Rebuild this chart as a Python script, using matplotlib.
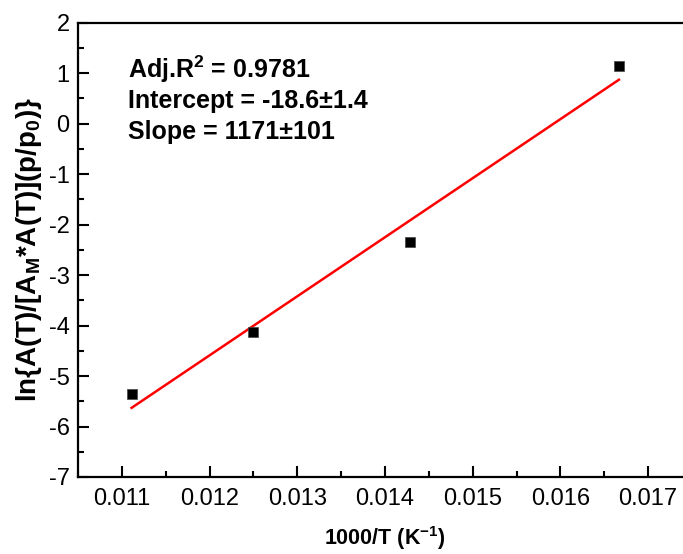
import matplotlib
matplotlib.use("Agg")
import matplotlib.pyplot as plt
import numpy as np
from matplotlib.ticker import MultipleLocator

plt.rcParams['font.family'] = ['Liberation Sans', 'DejaVu Sans']
plt.rcParams['mathtext.fontset'] = 'custom'
plt.rcParams['mathtext.rm'] = 'Liberation Sans'
plt.rcParams['mathtext.bf'] = 'Liberation Sans:bold'
plt.rcParams['axes.unicode_minus'] = False

# data
inv_T = [1 / 90.0, 1 / 80.0, 1 / 70.0, 1 / 60.0]
ln_ratio = [-5.35, -4.13, -2.35, 1.15]

fit_labels = ["Adj.R$^{\\mathregular{2}}$ = 0.9781",
              "Intercept = -18.6\u00b11.4",
              "Slope = 1171\u00b1101"]

# linear fit
slope, intercept = np.polyfit(inv_T, ln_ratio, 1)
xfit = np.linspace(min(inv_T), max(inv_T), 50)
yfit = slope * xfit + intercept

fig = plt.figure(figsize=(6.83, 5.54), dpi=100)
ax = fig.add_axes([0.1142, 0.139, 0.899, 0.820])

ax.plot(xfit, yfit, color='red', lw=1.8, zorder=2)
ax.plot(inv_T, ln_ratio, 's', color='black', markersize=6.8,
        markeredgecolor='#444444', markeredgewidth=0.5, zorder=3)

ax.set_xlim(0.0105, 0.0175)
ax.set_ylim(-7, 2)
ax.xaxis.set_minor_locator(MultipleLocator(0.0005))
ax.yaxis.set_major_locator(MultipleLocator(1))
ax.yaxis.set_minor_locator(MultipleLocator(0.5))
ax.set_xticks([0.011, 0.012, 0.013, 0.014, 0.015, 0.016, 0.017])
ax.set_xticklabels(['0.011', '0.012', '0.013', '0.014', '0.015', '0.016', '0.017'])

ax.tick_params(which='major', direction='in', length=8, width=1.5,
               labelsize=17, pad=8, top=False, right=False)
ax.tick_params(which='minor', direction='in', length=4.5, width=1.5,
               top=False, right=False)
ax.tick_params(axis='y', which='major', pad=6)

for s in ['left', 'bottom', 'top']:
    ax.spines[s].set_linewidth(1.6)
ax.spines['right'].set_visible(False)

ax.set_xlabel('1000/T (K$^{\\mathregular{-1}}$)', fontsize=15.5, fontweight='bold', labelpad=10)
ax.set_ylabel('ln{A(T)/[A$_{\\mathregular{M}}$*A(T)](p/p$_{\\mathregular{0}}$)}',
              fontsize=20, fontweight='bold', labelpad=3)

ypos = [0.879, 0.812, 0.744]
for t, yy in zip(fit_labels, ypos):
    ax.text(0.0814, yy, t, transform=ax.transAxes, fontsize=18,
            fontweight='bold', va='baseline', ha='left')

fig.savefig('out.png', dpi=100)
